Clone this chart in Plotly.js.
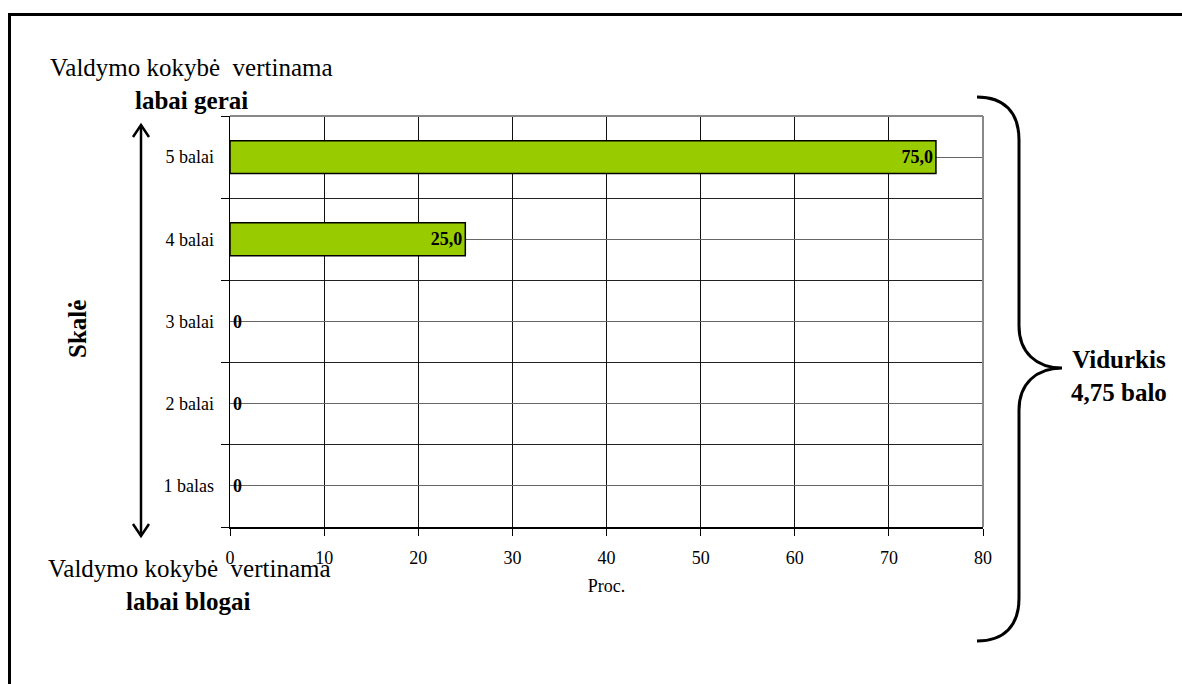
<!DOCTYPE html>
<html>
<head>
<meta charset="utf-8">
<script src="https://cdn.plot.ly/plotly-3.0.1.min.js"></script>
<style>
  html, body { margin: 0; padding: 0; background: #fff; }
  #chart { width: 1182px; height: 684px; }
</style>
</head>
<body>
<div id="chart"></div>
<script>
// Survey scale: share of answers (%) for each score
const categories = ['1 balas', '2 balai', '3 balai', '4 balai', '5 balai'];
const percents = [0, 0, 0, 25, 75];
const xTicks = [0, 10, 20, 30, 40, 50, 60, 70, 80];
const averageText = 'Vidurkis<br>4,75 balo';

const SERIF = '"Liberation Serif", "Times New Roman", serif';

// Page geometry (pixels) used to place the decorations around the plot
const W = 1182, H = 684;
const PL = 230, PR = 983, PT = 116, PB = 527;
const px = p => (p - PL) / (PR - PL);
const py = p => (PB - p) / (PB - PT);
const pathOf = pts => pts.map(s => s[0] + px(s[1]).toFixed(5) + ',' + py(s[2]).toFixed(5) +
  (s.length > 3 ? ' ' + px(s[3]).toFixed(5) + ',' + py(s[4]).toFixed(5) + ' ' + px(s[5]).toFixed(5) + ',' + py(s[6]).toFixed(5) : '')).join(' ');

const yPos = categories.map((_, i) => i + 1);
const labels = percents.map(v => v > 0 ? v.toFixed(1).replace('.', ',') : '0');

const bars = {
  type: 'bar',
  orientation: 'h',
  x: percents,
  y: yPos,
  width: 0.4,
  marker: { color: '#99CC00', line: { color: '#000', width: percents.map(v => v > 0 ? 1.5 : 0) } },
  text: labels,
  textposition: percents.map(v => v > 0 ? 'inside' : 'outside'),
  insidetextanchor: 'end',
  constraintext: 'none',
  cliponaxis: false,
  textfont: { family: SERIF, size: 18, color: '#000', weight: 'bold' },
  hoverinfo: 'skip'
};

const line = (x0, y0, x1, y1, color, width) => ({
  type: 'line', xref: 'paper', yref: 'paper',
  x0: px(x0), y0: py(y0), x1: px(x1), y1: py(y1),
  line: { color: color, width: width }
});

const shapes = [
  // plot frame: grey top and right edges
  line(PL, PT, PR, PT, '#888', 2),
  line(PR, PT, PR, PB, '#888', 2),
  // outer box edges
  line(8, 14.5, W + 2, 14.5, '#000', 3),
  line(9.5, 13, 9.5, H + 2, '#000', 3),
  // scale arrow
  line(141, 126, 141, 535, '#000', 2.5),
  { type: 'path', xref: 'paper', yref: 'paper', line: { color: '#000', width: 2.5 },
    path: pathOf([['M', 133, 137], ['L', 141, 125], ['L', 149, 137]]) },
  { type: 'path', xref: 'paper', yref: 'paper', line: { color: '#000', width: 2.5 },
    path: pathOf([['M', 133, 524], ['L', 141, 536], ['L', 149, 524]]) },
  // curly brace on the right
  { type: 'path', xref: 'paper', yref: 'paper', line: { color: '#000', width: 3 },
    path: pathOf([
      ['M', 977, 97],
      ['C', 1004, 97, 1019, 112, 1019, 140],
      ['L', 1019, 326],
      ['C', 1019, 352, 1036, 368, 1062, 368],
      ['C', 1036, 368, 1019, 384, 1019, 410],
      ['L', 1019, 598],
      ['C', 1019, 626, 1004, 641, 977, 641]
    ]) }
];

const ann = (text, x, y, size, bold, extra) => Object.assign({
  text: text, xref: 'paper', yref: 'paper', x: px(x), y: py(y),
  xanchor: 'center', yanchor: 'middle', showarrow: false,
  font: { family: SERIF, size: size, color: '#000', weight: bold ? 'bold' : 'normal' }
}, extra || {});

const annotations = [
  ann('Valdymo kokybė\u00a0 vertinama', 191, 68, 25, false),
  ann('labai gerai', 191, 100, 25, true),
  ann('Valdymo kokybė\u00a0 vertinama', 189, 568, 25, false),
  ann('labai blogai', 188, 601, 25, true),
  ann(averageText, 1119, 376, 25, true),
  ann('Skalė', 77, 329, 25, true, { textangle: -90 })
];

const layout = {
  width: W, height: H,
  margin: { l: PL, r: W - PR, t: PT, b: H - PB, pad: 0 },
  paper_bgcolor: '#fff', plot_bgcolor: '#fff',
  showlegend: false,
  bargap: 0.6,
  xaxis: {
    range: [0, 80], tickvals: xTicks, ticktext: xTicks.map(String),
    showgrid: true, gridcolor: '#111', gridwidth: 1,
    zeroline: false, showline: true, linecolor: '#000', linewidth: 1.5,
    ticks: 'outside', ticklen: 7, tickcolor: '#000', tickwidth: 1,
    ticklabelstandoff: 7,
    tickfont: { family: SERIF, size: 18, color: '#000' },
    title: { text: 'Proc.', font: { family: SERIF, size: 18, color: '#000' }, standoff: 12 },
    fixedrange: true
  },
  yaxis: {
    range: [0.5, 5.5], tickmode: 'array', tickvals: yPos, ticktext: categories,
    showgrid: true, gridcolor: '#666', gridwidth: 1,
    zeroline: false, showline: true, linecolor: '#000', linewidth: 1.5,
    ticks: 'outside', ticklen: 11, tickcolor: 'rgba(0,0,0,0)',
    tickfont: { family: SERIF, size: 18, color: '#000' },
    minor: { tickmode: 'linear', tick0: 0.5, dtick: 1, ticks: 'outside', ticklen: 8,
             tickcolor: '#000', showgrid: true, gridcolor: '#222', gridwidth: 1 },
    fixedrange: true
  },
  shapes: shapes,
  annotations: annotations
};

Plotly.newPlot('chart', [bars], layout, { staticPlot: true, displayModeBar: false });
</script>
</body>
</html>
